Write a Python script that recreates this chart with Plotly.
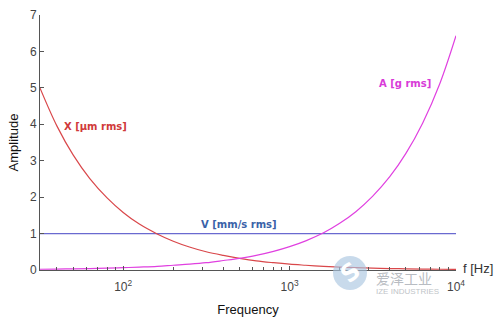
import plotly.graph_objects as go

# Frequency grid (Hz) and readings of the three vibration amplitudes
freq = [31.6, 40, 50, 63, 80, 100, 125, 160, 200, 250, 315, 400, 500, 630,
        800, 1000, 1250, 1600, 2000, 2500, 3150, 4000, 5000, 6300, 8000, 10000]
disp_um = [5.0, 3.95, 3.16, 2.51, 1.98, 1.58, 1.26, 0.99, 0.79, 0.63, 0.50,
           0.40, 0.32, 0.25, 0.20, 0.16, 0.13, 0.10, 0.08, 0.063, 0.05, 0.04,
           0.032, 0.025, 0.02, 0.016]
vel_mms = [1.0] * len(freq)
acc_g = [0.02, 0.026, 0.032, 0.04, 0.05, 0.064, 0.08, 0.10, 0.13, 0.16, 0.20,
         0.26, 0.32, 0.40, 0.51, 0.64, 0.80, 1.02, 1.28, 1.6, 2.02, 2.56, 3.2,
         4.03, 5.12, 6.43]

x_ticks = [100, 1000, 10000]
x_ticktext = ["10<sup>2</sup>", "10<sup>3</sup>", "10<sup>4</sup>"]
y_ticks = [0, 1, 2, 3, 4, 5, 6, 7]
minor_vals = [m * 10 ** d for d in (1, 2, 3) for m in range(2, 10)]

RED = "#d9474a"
BLUE = "#6a6ad0"
MAG = "#e040e0"
AXIS = "#555555"

# plot-area geometry in pixels, used for paper-space placement
L, R, T, B = 40, 44, 15, 58
PW, PH = 500 - L - R, 328 - T - B


def px(xp):
    return (xp - L) / PW


def py(yp):
    return (328 - B - yp) / PH


fig = go.Figure()
fig.add_trace(go.Scatter(x=freq, y=vel_mms, mode="lines",
                         line=dict(color=BLUE, width=1.2)))
fig.add_trace(go.Scatter(x=freq, y=disp_um, mode="lines",
                         line=dict(color=RED, width=1.2, shape="spline")))
fig.add_trace(go.Scatter(x=freq, y=acc_g, mode="lines",
                         line=dict(color=MAG, width=1.2, shape="spline")))

label_font = dict(family="DejaVu Sans", size=10)
fig.add_annotation(x=px(95), y=3.93, xref="paper", yref="y", text="<b>X [µm rms]</b>",
                   showarrow=False, xanchor="center", yanchor="middle",
                   font=dict(color="#d03a3a", **label_font))
fig.add_annotation(x=px(405), y=5.11, xref="paper", yref="y", text="<b>A [g rms]</b>",
                   showarrow=False, xanchor="center", yanchor="middle",
                   font=dict(color="#d83ad8", **label_font))
fig.add_annotation(x=px(239), y=1.24, xref="paper", yref="y", text="<b>V [mm/s rms]</b>",
                   showarrow=False, xanchor="center", yanchor="middle",
                   font=dict(color="#3a62a8", **label_font))
fig.add_annotation(x=px(461), y=py(268), xref="paper", yref="paper", text="f [Hz]",
                   showarrow=False, xanchor="left", yanchor="middle",
                   font=dict(family="Liberation Sans", size=13, color="#333333"))

# Company watermark
fig.add_shape(type="circle", xref="paper", yref="paper",
              x0=px(333), x1=px(367), y0=py(290), y1=py(256),
              fillcolor="rgba(170,198,225,0.65)", line=dict(width=0), layer="above")
fig.add_annotation(x=px(350), y=py(273), xref="paper", yref="paper",
                   text="<b>S</b>", showarrow=False, textangle=-40,
                   xanchor="center", yanchor="middle",
                   font=dict(family="DejaVu Sans", size=24, color="white"))
fig.add_annotation(x=px(374), y=py(278), xref="paper", yref="paper",
                   text="爱泽工业", showarrow=False, xanchor="left", yanchor="middle",
                   font=dict(family="Noto Sans CJK SC", size=14, color="#b8bcc2"))
fig.add_annotation(x=px(374), y=py(291), xref="paper", yref="paper",
                   text="IZE INDUSTRIES", showarrow=False, xanchor="left", yanchor="middle",
                   font=dict(family="Liberation Sans", size=8, color="#c0c4c8"))

fig.update_layout(
    width=500, height=328,
    margin=dict(l=L, r=R, t=T, b=B),
    paper_bgcolor="white", plot_bgcolor="white",
    showlegend=False,
    xaxis=dict(type="log", range=[1.5, 4], tickvals=x_ticks, ticktext=x_ticktext,
               ticks="inside", ticklen=4, tickcolor=AXIS, showgrid=False, zeroline=False,
               showline=True, linecolor=AXIS, linewidth=1, ticklabelstandoff=6,
               automargin=False,
               minor=dict(tickvals=minor_vals, ticks="inside", ticklen=3, tickcolor=AXIS),
               tickfont=dict(family="Liberation Sans", size=12, color="#444444"),
               title=dict(text="Frequency", standoff=11,
                          font=dict(family="Liberation Sans", size=13, color="#111111"))),
    yaxis=dict(range=[0, 7], tickvals=y_ticks, ticks="inside", ticklen=4, tickcolor=AXIS,
               showgrid=False, zeroline=False, showline=True, linecolor=AXIS, linewidth=1,
               automargin=False,
               tickfont=dict(family="Liberation Sans", size=12, color="#444444"),
               title=dict(text="Amplitude", standoff=8,
                          font=dict(family="Liberation Sans", size=13, color="#111111"))),
)

fig.write_html("out.html")
